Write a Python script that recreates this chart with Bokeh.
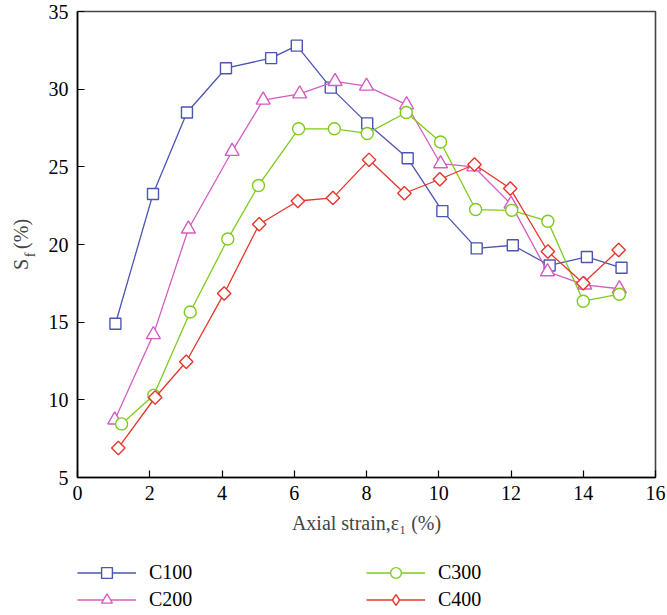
import math
from bokeh.plotting import figure
from bokeh.layouts import column
from bokeh.models import Range1d, FixedTicker, Legend, LegendItem, LinearAxis
from bokeh.embed import file_html
from bokeh.resources import INLINE

# ---- data ----
c100_x = [1.05, 2.09, 3.03, 4.11, 5.36, 6.07, 7.01, 8.02, 9.14, 10.1, 11.05, 12.05, 13.07, 14.1, 15.06]
c100_y = [14.9, 23.25, 28.5, 31.35, 32.0, 32.8, 30.1, 27.8, 25.55, 22.15, 19.75, 19.95, 18.65, 19.2, 18.5]

c200_x = [1.03, 2.1, 3.07, 4.28, 5.14, 6.15, 7.13, 8.0, 9.11, 10.05, 10.97, 12.0, 13.01, 14.04, 15.0]
c200_y = [8.7, 14.2, 21.0, 26.0, 29.3, 29.7, 30.5, 30.2, 29.0, 25.2, 25.0, 22.6, 18.25, 17.4, 17.15]

c300_x = [1.22, 2.11, 3.12, 4.16, 5.01, 6.12, 7.11, 8.02, 9.1, 10.05, 11.02, 12.02, 13.02, 14.0, 15.0]
c300_y = [8.45, 10.3, 15.65, 20.35, 23.8, 27.45, 27.45, 27.15, 28.5, 26.6, 22.25, 22.2, 21.5, 16.35, 16.8]

c400_x = [1.13, 2.15, 3.01, 4.06, 5.03, 6.1, 7.07, 8.07, 9.05, 10.03, 10.99, 11.98, 13.02, 14.0, 14.98]
c400_y = [6.9, 10.15, 12.45, 16.85, 21.3, 22.8, 23.0, 25.45, 23.3, 24.2, 25.15, 23.6, 19.55, 17.5, 19.65]

series_names = ["C100", "C200", "C300", "C400"]
x_ticks = [0, 2, 4, 6, 8, 10, 12, 14, 16]
y_ticks = [5, 10, 15, 20, 25, 30, 35]

FONT = "Liberation Serif"
NB = "\u00a0"

p = figure(width=667, height=545, output_backend="svg", toolbar_location=None,
           x_range=Range1d(0, 16), y_range=Range1d(5, 35),
           min_border_left=77, min_border_right=12, min_border_top=11, min_border_bottom=68)
p.grid.visible = False
p.outline_line_color = "#444444"
p.outline_line_width = 1.6
p.background_fill_color = "white"
p.border_fill_color = "white"

for ax in (p.xaxis[0], p.yaxis[0]):
    ax.axis_line_color = "black"
    ax.axis_line_width = 1.5
    ax.major_tick_in = 7
    ax.major_tick_out = 0
    ax.major_tick_line_color = "black"
    ax.major_tick_line_width = 1.2
    ax.minor_tick_line_color = None
    ax.major_label_text_font = FONT
    ax.major_label_text_font_size = "20px"
    ax.major_label_text_color = "black"

p.xaxis[0].ticker = FixedTicker(ticks=x_ticks)
p.yaxis[0].ticker = FixedTicker(ticks=y_ticks)
p.xaxis[0].major_label_standoff = 8
p.yaxis[0].major_label_standoff = 9
p.xaxis[0].axis_label = "Axial strain,\u03b5\u2081 (%)"
p.xaxis[0].axis_label_text_font = FONT
p.xaxis[0].axis_label_text_font_style = "normal"
p.xaxis[0].axis_label_text_font_size = "20px"
p.xaxis[0].axis_label_standoff = 9

# y-axis label "S_f (%)": label-only axes, subscript f then "S  (%)"
f_axis = LinearAxis(ticker=FixedTicker(ticks=[]),
                    axis_line_color=None, major_tick_line_color=None,
                    minor_tick_line_color=None, major_tick_in=0, major_tick_out=0,
                    axis_label="f" + NB * 6, axis_label_text_font=FONT,
                    axis_label_text_font_style="normal",
                    axis_label_text_font_size="14px", axis_label_standoff=8)
p.add_layout(f_axis, "left")
s_axis = LinearAxis(ticker=FixedTicker(ticks=[]),
                    axis_line_color=None, major_tick_line_color=None,
                    minor_tick_line_color=None, major_tick_in=0, major_tick_out=0,
                    axis_label="S" + NB * 2 + "(%)", axis_label_text_font=FONT,
                    axis_label_text_font_style="normal",
                    axis_label_text_font_size="20px", axis_label_standoff=-12)
p.add_layout(s_axis, "left")

colors = ["#4b55b2", "#d45cc2", "#7fcb1c", "#e8352b"]
xs = [c100_x, c200_x, c300_x, c400_x]
ys = [c100_y, c200_y, c300_y, c400_y]
markers = ["square", "triangle", "circle", "square"]
legend_markers = ["square", "triangle", "circle", "diamond"]
sizes = [11, 14, 12, 9.5]
legend_sizes = [10, 13, 11, 14]
angles = [0, 0, 0, math.pi / 4]

# legend figure below the chart (its ranges keep the proxy series out of view)
q = figure(width=667, height=70, output_backend="svg", toolbar_location=None,
           x_range=Range1d(-200, -199), y_range=Range1d(-200, -199),
           x_axis_location=None, y_axis_location=None,
           min_border_left=0, min_border_right=0, min_border_top=0, min_border_bottom=0)
q.grid.visible = False
q.outline_line_color = None
q.border_fill_color = "white"
q.background_fill_color = "white"

items = []
for name, x, y, c, m, s, a, lm, ls in zip(series_names, xs, ys, colors, markers, sizes,
                                          angles, legend_markers, legend_sizes):
    p.line(x, y, line_color=c, line_width=1.3)
    p.scatter(x, y, marker=m, size=s, angle=a, line_color=c, line_width=1.4,
              fill_color="white")
    lq = q.line(x, y, line_color=c, line_width=1.3)
    sq = q.scatter(x, y, marker=lm, size=ls, line_color=c, line_width=1.4,
                   fill_color="white")
    items.append(LegendItem(label=name, renderers=[lq, sq]))

legend = Legend(items=items, ncols=2, location=(0, 2),
                glyph_width=59, glyph_height=27, label_standoff=13,
                label_width=217, label_height=27, spacing=0,
                padding=0, margin=0, border_line_color=None,
                background_fill_alpha=0,
                label_text_font=FONT, label_text_font_size="20px",
                label_text_color="black")
q.add_layout(legend, "center")

layout = column(p, q, spacing=0)
open("out.html", "w").write(file_html(layout, INLINE))
